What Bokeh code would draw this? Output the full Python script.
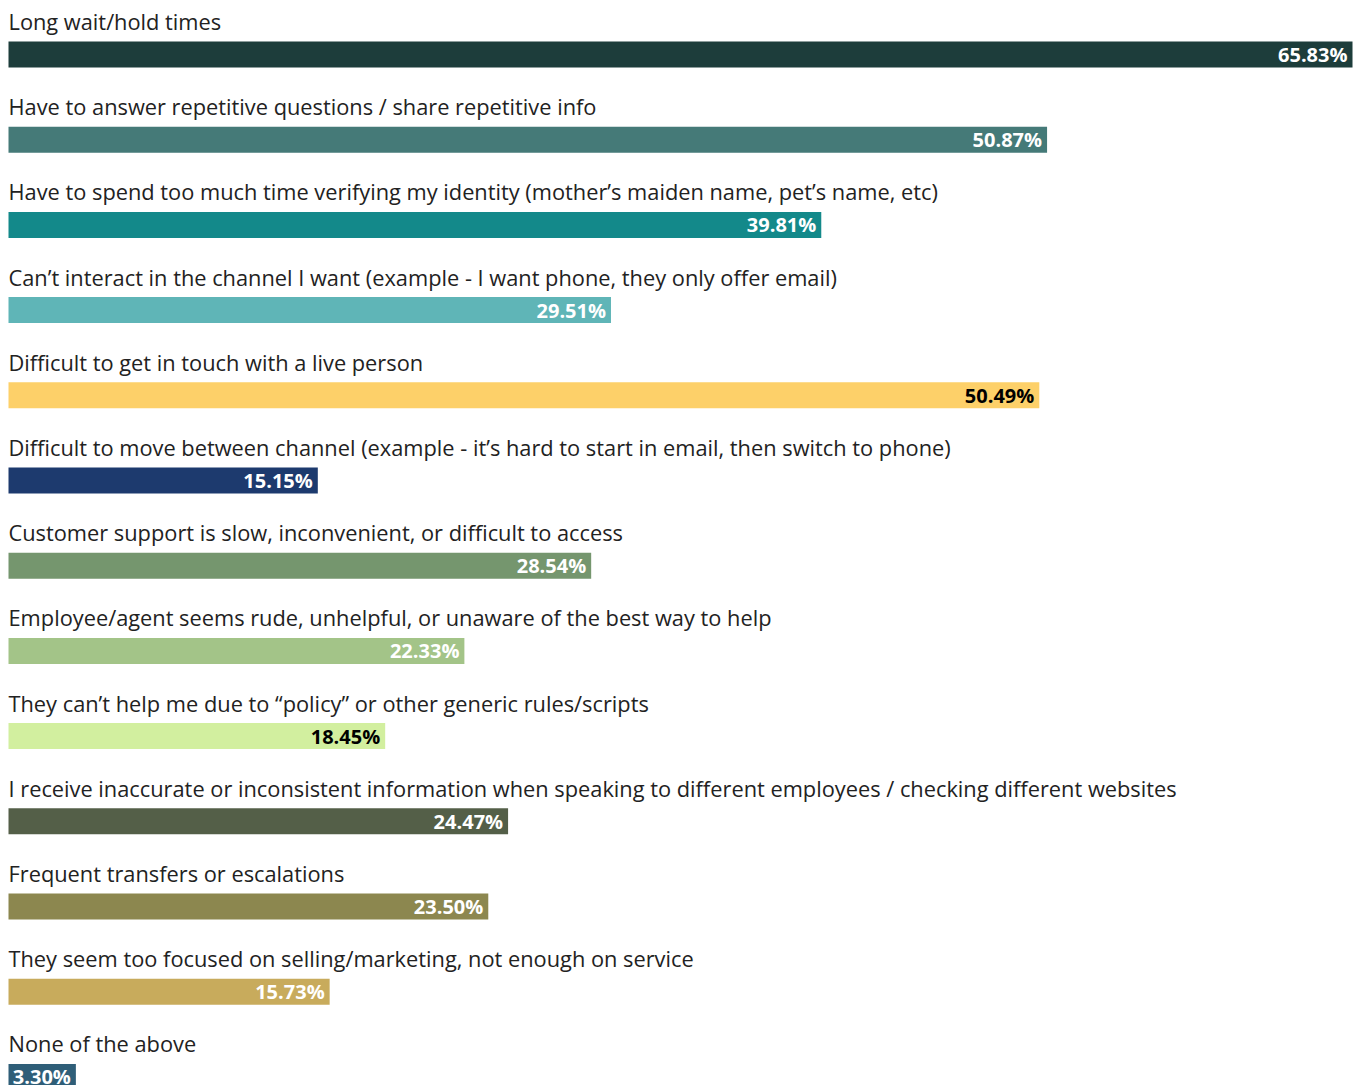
from bokeh.plotting import figure
from bokeh.models import ColumnDataSource, Range1d
from bokeh.embed import file_html
from bokeh.resources import INLINE
from bokeh.core.properties import value

categories = [
    "Long wait/hold times",
    "Have to answer repetitive questions / share repetitive info",
    "Have to spend too much time verifying my identity (mother\u2019s maiden name, pet\u2019s name, etc)",
    "Can\u2019t interact in the channel I want (example - I want phone, they only offer email)",
    "Difficult to get in touch with a live person",
    "Difficult to move between channel (example - it\u2019s hard to start in email, then switch to phone)",
    "Customer support is slow, inconvenient, or difficult to access",
    "Employee/agent seems rude, unhelpful, or unaware of the best way to help",
    "They can\u2019t help me due to \u201cpolicy\u201d or other generic rules/scripts",
    "I receive inaccurate or inconsistent information when speaking to different employees / checking different websites",
    "Frequent transfers or escalations",
    "They seem too focused on selling/marketing, not enough on service",
    "None of the above",
]
values = [65.83, 50.87, 39.81, 29.51, 50.49, 15.15, 28.54, 22.33, 18.45, 24.47, 23.50, 15.73, 3.30]
colors = ["#1d3d3b", "#457a78", "#13898a", "#5fb5b7", "#fdd069", "#1d3a6e", "#75966e",
          "#a3c488", "#d2ef9f", "#545f48", "#8c874f", "#c8ab5c", "#2f5e78"]
label_colors = ["white", "white", "white", "white", "black", "white", "white",
                "white", "black", "white", "white", "white", "white"]

W, H = 1361, 1085
px_per_unit = 1344 / 65.83
left_px = 8
row_px = 85.2
first_center = 54
bar_px = 26

x0 = -left_px / px_per_unit
x1 = (W - left_px) / px_per_unit
y_top = -first_center / row_px
y_bot = (H - first_center) / row_px

idx = list(range(len(categories)))
src = ColumnDataSource(dict(
    y=idx, v=values, c=colors, lc=label_colors, cat=categories,
    lab=[f"{v:.2f}%" for v in values],
    zero=[0] * len(values),
))

p = figure(width=W, height=H, output_backend="svg", toolbar_location=None,
           x_range=Range1d(x0, x1), y_range=Range1d(y_bot, y_top),
           min_border=0, min_border_left=0, min_border_right=0,
           min_border_top=0, min_border_bottom=0)
p.axis.visible = False
p.grid.visible = False
p.outline_line_color = None
p.background_fill_color = "white"

p.hbar(y="y", left=0, right="v", height=bar_px / row_px, fill_color="c",
       line_color=None, source=src)

p.text(x="zero", y="y", text="cat", source=src, y_offset=-33,
       text_font=value("Open Sans"), text_font_size="21.8px", text_color="#222222",
       text_baseline="middle", text_align="left")

p.text(x="v", y="y", text="lab", source=src, x_offset=-5, y_offset=0,
       text_font=value("Open Sans"), text_font_size="20px", text_font_style="bold",
       text_color="lc", text_baseline="middle", text_align="right")

open("out.html", "w").write(file_html(p, INLINE))
